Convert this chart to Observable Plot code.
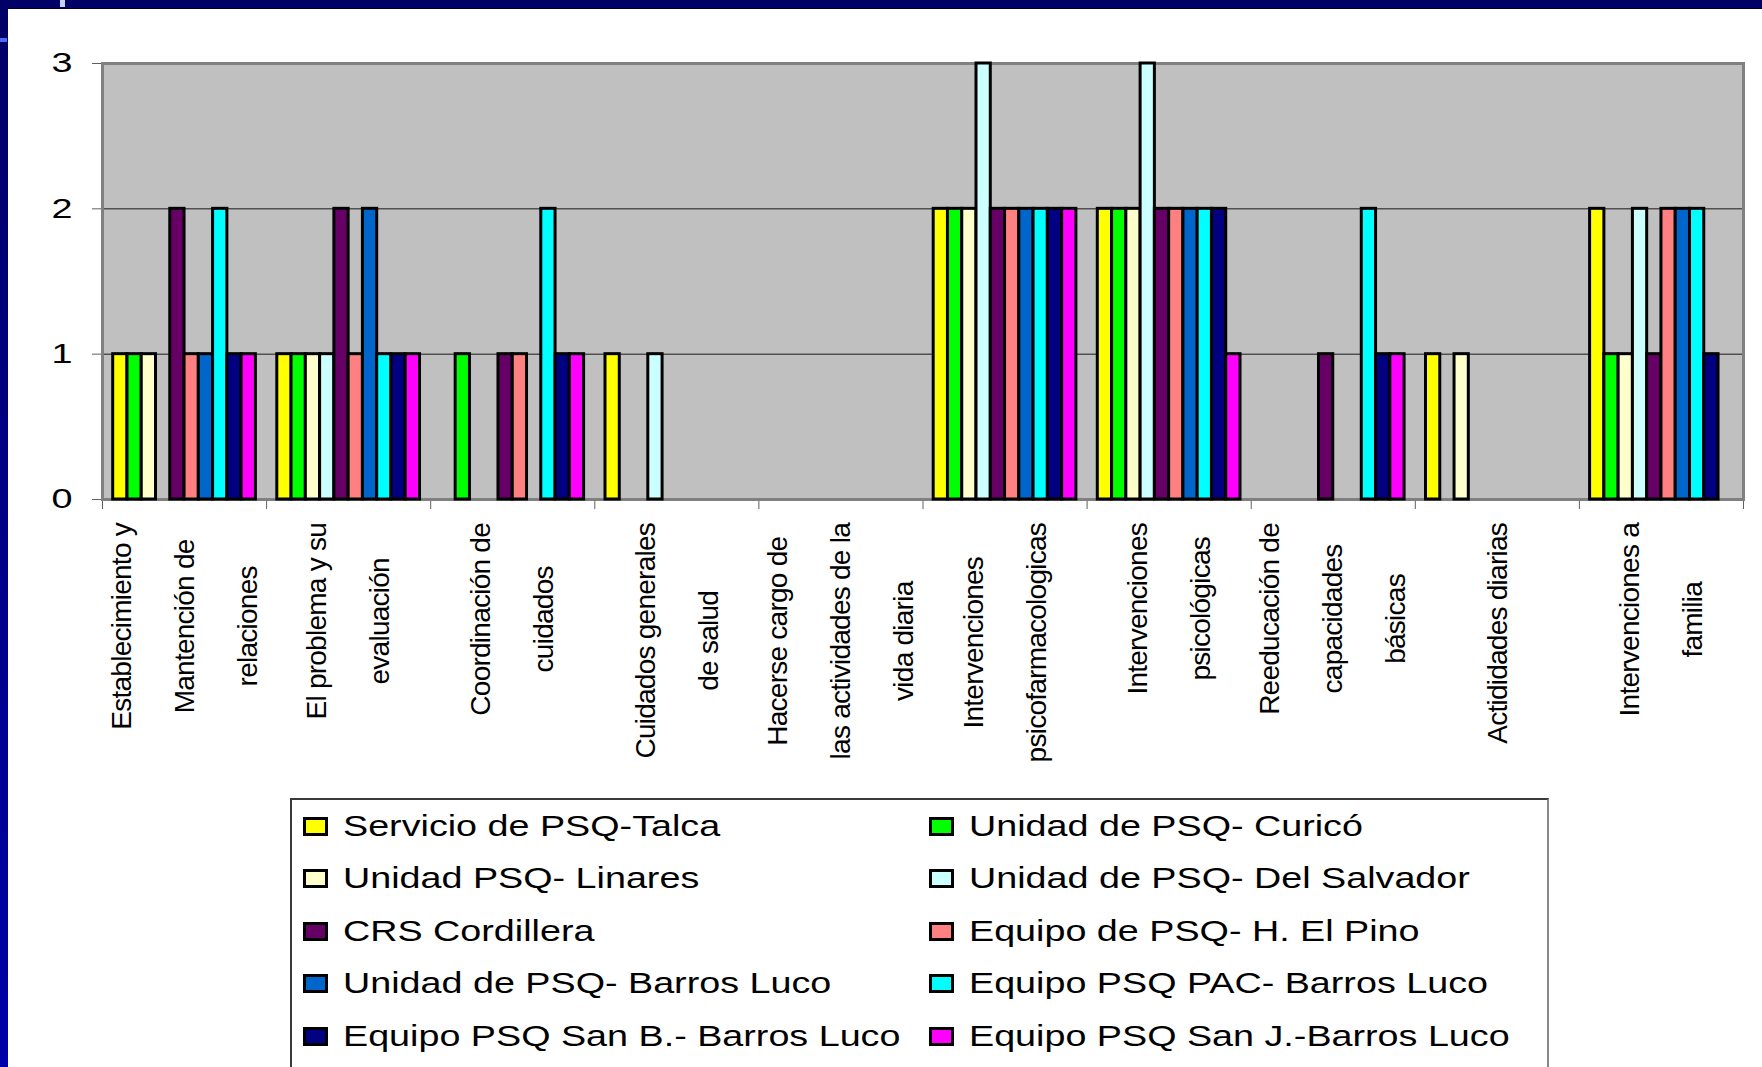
<!DOCTYPE html>
<html>
<head>
<meta charset="utf-8">
<script src="https://cdn.jsdelivr.net/npm/d3@7"></script>
<script src="https://cdn.jsdelivr.net/npm/@observablehq/plot@0.6"></script>
<style>
  html, body { margin: 0; padding: 0; background: #fff; }
  #page { position: relative; width: 1762px; height: 1067px; overflow: hidden; background: #fff;
          font-family: "Liberation Sans", Arial, sans-serif; }
  #topband { position: absolute; left: 0; top: 0; width: 1762px; height: 8px; background: #000066; border-bottom: 1px solid #00002a; }
  #leftband { position: absolute; left: 0; top: 0; width: 8px; height: 1067px; background: linear-gradient(#000066, #0000a8); }
  #deco1 { position: absolute; left: 60px; top: 0; width: 5px; height: 7px; background: #c8d0f0; }
  #deco2 { position: absolute; left: 0; top: 38px; width: 7px; height: 4px; background: #4a6cf0; }
  #chart { position: absolute; left: 0; top: 0; }
  #chart svg text { letter-spacing: -0.75px; }
  #chart g[aria-label^="x-axis"], #chart g[aria-label^="y-axis"] { color: #606060; }
  #chart g[aria-label^="y-axis"] text { fill: #000; font-size: 28px; letter-spacing: 0; }
  #legend { position: absolute; left: 290px; top: 798px; width: 1255px; height: 320px;
            border: 2px solid #3a3a3a; border-right-color: #888; background: #fff; }
  .sw { position: absolute; width: 19px; height: 13px; border: 3px solid #000; }
  .lt { position: absolute; font-size: 29px; line-height: 29px; white-space: nowrap; color: #000;
        transform: scaleX(1.3); transform-origin: 0 50%; }
</style>
</head>
<body>
<div id="page">
  <div id="chart"></div>
  <div id="legend"></div>
  <div id="topband"></div>
  <div id="leftband"></div>
  <div id="deco1"></div>
  <div id="deco2"></div>
</div>
<script>
// ---------------- DATA ----------------
const categories = [
  "Establecimiento y\nMantención de\nrelaciones",
  "El problema y su\nevaluación",
  "Coordinación de\ncuidados",
  "Cuidados generales\nde salud",
  "Hacerse cargo de\nlas actividades de la\nvida diaria",
  "Intervenciones\npsicofarmacologicas",
  "Intervenciones\npsicológicas",
  "Reeducación de\ncapacidades\nbásicas",
  "Actididades diarias",
  "Intervenciones a\nfamilia"
];

const seriesNames = [
  "Servicio de PSQ-Talca",
  "Unidad de PSQ- Curicó",
  "Unidad PSQ- Linares",
  "Unidad de PSQ- Del Salvador",
  "CRS Cordillera",
  "Equipo de PSQ- H. El Pino",
  "Unidad de PSQ- Barros Luco",
  "Equipo PSQ PAC- Barros Luco",
  "Equipo PSQ San B.- Barros Luco",
  "Equipo PSQ San J.-Barros Luco"
];

const talca      = [1, 1, 0, 1, 0, 2, 2, 0, 1, 2];
const curico     = [1, 1, 1, 0, 0, 2, 2, 0, 0, 1];
const linares    = [1, 1, 0, 0, 0, 2, 2, 0, 1, 1];
const salvador   = [0, 1, 0, 1, 0, 3, 3, 0, 0, 2];
const cordillera = [2, 2, 1, 0, 0, 2, 2, 1, 0, 1];
const elPino     = [1, 1, 1, 0, 0, 2, 2, 0, 0, 2];
const barrosLuco = [1, 2, 0, 0, 0, 2, 2, 0, 0, 2];
const pac        = [2, 1, 2, 0, 0, 2, 2, 2, 0, 2];
const sanB       = [1, 1, 1, 0, 0, 2, 2, 1, 0, 1];
const sanJ       = [1, 1, 1, 0, 0, 2, 1, 1, 0, 0];

const seriesValues = [talca, curico, linares, salvador, cordillera, elPino, barrosLuco, pac, sanB, sanJ];

const yTicks = [0, 1, 2, 3];

// ---------------- STYLE ----------------
const seriesColors = ["#ffff00", "#00ff00", "#ffffcc", "#ccffff", "#660066",
                      "#ff8080", "#0066cc", "#00ffff", "#000080", "#ff00ff"];
const gapWidth = 1.5;          // Excel-like gap between clusters, in bar widths
const labelFont = 28;
const letterSpacing = -0.75;
const labelGapFromAxis = 23.5;

// ---------------- BUILD ----------------
const nS = seriesNames.length;
const rows = [];
seriesValues.forEach((vals, si) => {
  vals.forEach((v, ci) => {
    if (v > 0) rows.push({series: seriesNames[si], si, ci, value: v});
  });
});

const ctx = document.createElement("canvas").getContext("2d");
ctx.font = `${labelFont}px "Liberation Sans"`;
const textWidth = s => ctx.measureText(s).width + s.length * letterSpacing;

const labelMarks = categories.map((c, i) => {
  const longest = d3.max(c.split("\n"), textWidth);
  return Plot.text([i], {
    x: d => d + 0.5,
    text: d => categories[d],
    frameAnchor: "bottom",
    dy: labelGapFromAxis + longest / 2,
    dx: -11,
    rotate: -90,
    textAnchor: "middle",
    lineAnchor: "middle",
    lineHeight: 2.25,
    fontSize: labelFont,
    fill: "#000"
  });
});

const chart = Plot.plot({
  width: 1762,
  height: 790,
  marginLeft: 102,
  marginRight: 19,
  marginTop: 63,
  marginBottom: 291,
  style: {
    background: "transparent",
    fontFamily: '"Liberation Sans", Arial, sans-serif',
    fontSize: "28px",
    overflow: "visible"
  },
  x: {domain: [0, categories.length], ticks: d3.range(categories.length + 1), tickSize: 10, tickFormat: () => "", label: null},
  y: {domain: [0, 3], ticks: yTicks, tickSize: 10, tickPadding: 20, tickFormat: d3.format("d"), label: null},
  color: {domain: seriesNames, range: seriesColors},
  marks: [
    Plot.frame({fill: "#c0c0c0"}),
    Plot.ruleY(yTicks.filter(t => t > 0 && t < 3), {stroke: "#505050", strokeWidth: 1.5}),
    Plot.frame({stroke: "#808080", strokeWidth: 3}),
    Plot.rectY(rows, {
      x1: d => d.ci + (gapWidth / 2 + d.si) / (nS + gapWidth),
      x2: d => d.ci + (gapWidth / 2 + d.si + 1) / (nS + gapWidth),
      y1: 0,
      y2: "value",
      fill: "series",
      stroke: "#000",
      strokeWidth: 3
    }),
    ...labelMarks
  ]
});
document.getElementById("chart").appendChild(chart);

// widen the y tick digits like the original (stretched) slide
d3.select(chart).selectAll('g[aria-label^="y-axis"] text').each(function() {
  const t = d3.select(this);
  const x = +(t.attr("x") || 0);
  const tr = t.attr("transform") || "";
  t.attr("transform", `${tr} translate(${x},0) scale(1.35,1) translate(${-x},0)`);
});

// ---------------- LEGEND ----------------
const legend = d3.select("#legend");
const colSw = [11, 637], colTx = [51, 677];
const rowCenters = [26, 78.5, 131, 183.5, 236];
seriesNames.forEach((name, i) => {
  const col = i % 2, row = Math.floor(i / 2);
  legend.append("div").attr("class", "sw")
    .style("left", colSw[col] + "px")
    .style("top", (rowCenters[row] - 9.5) + "px")
    .style("background", seriesColors[i]);
  legend.append("div").attr("class", "lt")
    .style("left", colTx[col] + "px")
    .style("top", (rowCenters[row] - 14.1) + "px")
    .text(name);
});
</script>
</body>
</html>
